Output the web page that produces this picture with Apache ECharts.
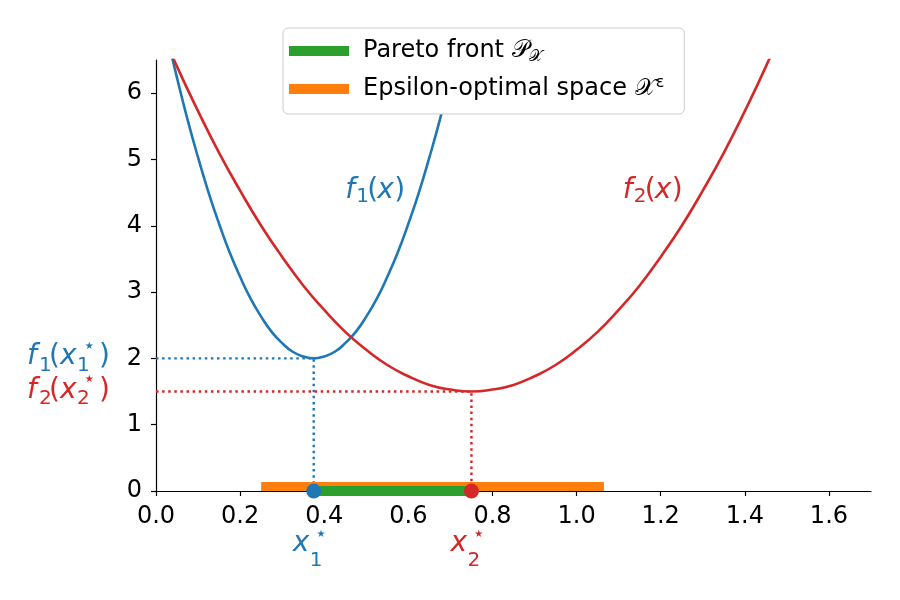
<!DOCTYPE html>
<html><head><meta charset="utf-8">
<script src="https://cdn.jsdelivr.net/npm/echarts@6/dist/echarts.min.js"></script>
<style>html,body{margin:0;padding:0;background:#fff}#c{width:900px;height:600px}</style>
</head><body><div id="c"></div>
<script>
// ---- data ----
const f1X = [0.025,0.05,0.075,0.1,0.125,0.15,0.175,0.2,0.225,0.25,0.275,0.3,0.325,0.35,0.375,0.4,0.425,0.45,0.475,0.5,0.525,0.55,0.575,0.6,0.625,0.65,0.675,0.7,0.725];
const f1Y = [6.90,6.23,5.60,5.03,4.50,4.03,3.60,3.23,2.90,2.63,2.40,2.23,2.10,2.03,2.00,2.03,2.10,2.23,2.40,2.63,2.90,3.23,3.60,4.03,4.50,5.03,5.60,6.23,6.90];
const f2X = [0.0,0.05,0.1,0.15,0.2,0.25,0.3,0.35,0.4,0.45,0.5,0.55,0.6,0.65,0.7,0.75,0.8,0.85,0.9,0.95,1.0,1.05,1.1,1.15,1.2,1.25,1.3,1.35,1.4,1.45,1.5];
const f2Y = [7.13,6.40,5.73,5.10,4.53,4.00,3.53,3.10,2.73,2.40,2.13,1.90,1.73,1.60,1.53,1.50,1.53,1.60,1.73,1.90,2.13,2.40,2.73,3.10,3.53,4.00,4.53,5.10,5.73,6.40,7.13];
const xStar = [0.375, 0.75];          // minimisers x1*, x2*
const fStar = [2.0, 1.5];             // f1(x1*), f2(x2*)
const paretoRange = [0.375, 0.75];
const epsRange = [0.25, 1.065];
const epsLevel = 0.068;
const xTickValues = [0,0.2,0.4,0.6,0.8,1.0,1.2,1.4,1.6];
const yTickValues = [0,1,2,3,4,5,6];
const xLimits = [0, 1.7];
const yLimits = [0, 6.5];
const legendNames = ['Pareto front', 'Epsilon-optimal space'];
const f1LabelAt = [0.45, 4.4];
const f2LabelAt = [1.11, 4.4];

const BLUE='#1f77b4', RED='#d62728', GREEN='#2ca02c', ORANGE='#ff7f0e';
const FONT='DejaVu Sans';
const zip=(a,b)=>a.map((v,i)=>[v,b[i]]);

const chart = echarts.init(document.getElementById('c'), null, {renderer:'canvas'});
const dotted = {type:[2.5,3.6], width:2.4, cap:'butt'};

chart.setOption({
  animation:false,
  backgroundColor:'#fff',
  grid:{left:156, right:29, top:60, bottom:109, containLabel:false},
  xAxis:{type:'value', min:xLimits[0], max:xLimits[1],
    axisLine:{onZero:false, lineStyle:{color:'#000', width:1.2}},
    axisTick:{customValues:xTickValues, length:5, lineStyle:{color:'#000', width:1.2}},
    axisLabel:{customValues:xTickValues, formatter:v=>v.toFixed(1), color:'#000', fontFamily:FONT, fontSize:24, margin:14},
    splitLine:{show:false}},
  yAxis:{type:'value', min:yLimits[0], max:yLimits[1],
    axisLine:{show:true, lineStyle:{color:'#000', width:1.2}},
    axisTick:{show:true, customValues:yTickValues, length:5, lineStyle:{color:'#000', width:1.2}},
    axisLabel:{customValues:yTickValues, color:'#000', fontFamily:FONT, fontSize:24, margin:14},
    splitLine:{show:false}},
  legend:{
    data:[{name:legendNames[0], icon:'rect'},{name:legendNames[1], icon:'rect'}],
    orient:'vertical', left:283, top:28, padding:[9,20,11,6],
    itemWidth:60, itemHeight:10, itemGap:10,
    backgroundColor:'#fff', borderColor:'#cccccc', borderWidth:1, borderRadius:5,
    selectedMode:false,
    formatter:n=> n===legendNames[0] ? n+' {cal|𝒫}{sub|𝒳}' : n+' {cal|𝒳}{sup|ε}',
    textStyle:{fontFamily:FONT, fontSize:24, color:'#000', lineHeight:28, padding:[0,0,0,9],
      rich:{cal:{fontFamily:FONT, fontSize:24, lineHeight:28},
            sub:{fontFamily:FONT, fontSize:16, lineHeight:16, verticalAlign:'bottom'},
            sup:{fontFamily:FONT, fontSize:16, lineHeight:16, verticalAlign:'top'}}}
  },
  series:[
    {name:legendNames[1], type:'line', data:[[epsRange[0],epsLevel],[epsRange[1],epsLevel]], symbol:'none', clip:false,
      color:ORANGE, lineStyle:{color:ORANGE, width:9, cap:'butt'}, z:3},
    {name:legendNames[0], type:'line', data:[[paretoRange[0],0],[paretoRange[1],0]], symbol:'none', clip:false,
      color:GREEN, lineStyle:{color:GREEN, width:10, cap:'butt'}, z:4},
    {name:'f1', type:'line', data:zip(f1X,f1Y), smooth:0.5, symbol:'none', clip:true,
      lineStyle:{color:BLUE, width:2.6}, z:2},
    {name:'f2', type:'line', data:zip(f2X,f2Y), smooth:0.5, symbol:'none', clip:true,
      lineStyle:{color:RED, width:2.6}, z:2},
    {name:'g1', type:'line', data:[[0,fStar[0]],[xStar[0],fStar[0]],[xStar[0],0]], symbol:'none', clip:false,
      lineStyle:Object.assign({color:BLUE}, dotted), z:2},
    {name:'g2', type:'line', data:[[0,fStar[1]],[xStar[1],fStar[1]],[xStar[1],0]], symbol:'none', clip:false,
      lineStyle:Object.assign({color:RED}, dotted), z:2},
    {name:'m', type:'scatter', clip:false, symbolSize:15, z:5,
      data:[{value:[xStar[0],0], itemStyle:{color:BLUE, opacity:1}},{value:[xStar[1],0], itemStyle:{color:RED, opacity:1}}]}
  ]
});

// ---- math-style text labels anchored to data coordinates ----
function mathText(anchor, pieces, color){
  const p = chart.convertToPixel({gridIndex:0}, anchor);
  return pieces.map(q=>{
    const size=q.s;
    const y = q.mid ? p[1]+q.by : p[1]+q.by-0.346*size;
    return {type:'text', x:p[0]+q.dx, y:y, silent:true, z:100,
      style:{text:q.t, fill:color, fontFamily:FONT, fontSize:size, fontStyle:q.i?'italic':'normal',
             align:'left', verticalAlign:'middle'}};
  });
}
const S=28, s=20;
const fxPieces = d => [
  {t:'f',s:S,i:1,dx:0,by:1},{t:d,s:s,dx:11,by:4},{t:'(',s:S,dx:22,by:1},{t:'x',s:S,i:1,dx:32,by:1},{t:')',s:S,dx:49,by:1}];
const fxsPieces = d => [
  {t:'f',s:S,i:1,dx:-129,by:8.5},{t:d,s:s,dx:-117,by:14.5},{t:'(',s:S,dx:-107,by:8.5},
  {t:'x',s:S,i:1,dx:-96,by:8.5},{t:d,s:s,dx:-79,by:14.5},{t:'⋆',s:s,dx:-73,by:-12,mid:1},{t:')',s:S,dx:-57,by:8.5}];
const xsPieces = d => [
  {t:'x',s:S,i:1,dx:-21,by:62},{t:d,s:s,dx:-4,by:77},{t:'⋆',s:s,dx:1,by:44,mid:1}];

let g=[];
g=g.concat(mathText(f1LabelAt, fxPieces('1'), BLUE));
g=g.concat(mathText(f2LabelAt, fxPieces('2'), RED));
g=g.concat(mathText([0,fStar[0]], fxsPieces('1'), BLUE));
g=g.concat(mathText([0,fStar[1]], fxsPieces('2'), RED));
g=g.concat(mathText([xStar[0],0], xsPieces('1'), BLUE));
g=g.concat(mathText([xStar[1],0], xsPieces('2'), RED));
chart.setOption({graphic:g});
</script></body></html>
